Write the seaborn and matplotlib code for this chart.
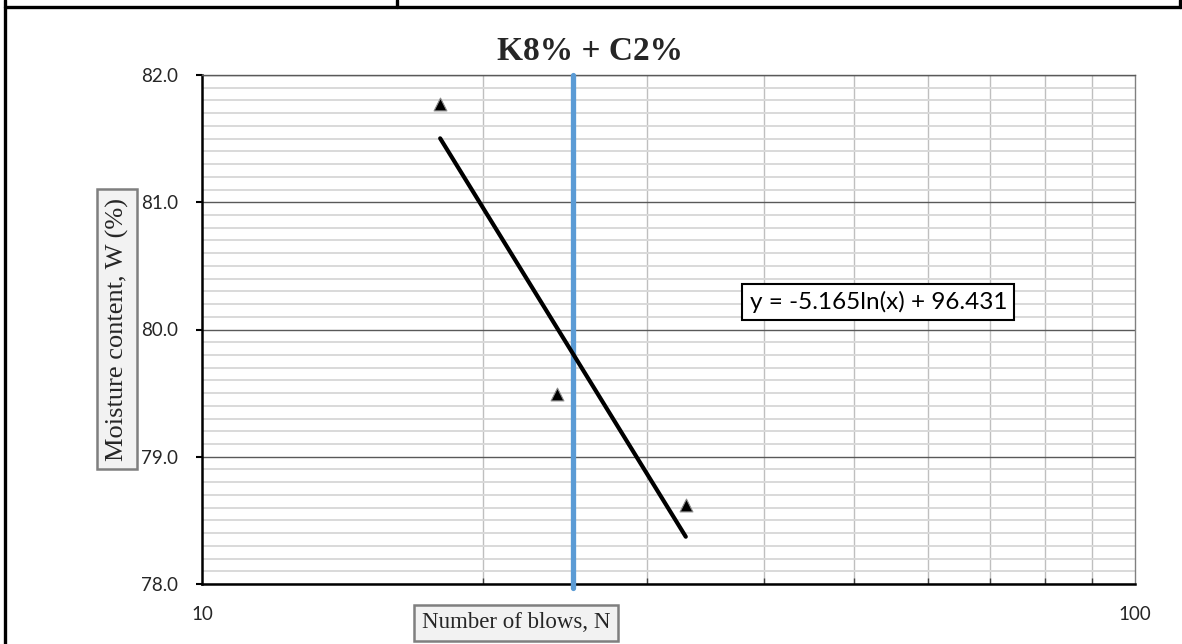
import numpy as np
import pandas as pd
import matplotlib
matplotlib.use("Agg")
import matplotlib.pyplot as plt
from matplotlib.lines import Line2D
from matplotlib.ticker import FixedLocator, NullFormatter
import seaborn as sns

# Liquid limit test data
blows = [18, 24, 33]
moisture = [81.77, 79.49, 78.62]

# Logarithmic trend line: W = a*ln(N) + b
trend_a = -5.165
trend_b = 96.431
trend_label = "y = -5.165ln(x) + 96.431"

title = "K8% + C2%"
x_label = "Number of blows, N"
y_label = "Moisture content, W (%)"
liquid_limit_blows = 25

x_ticks = [10, 100]
y_ticks = [78.0, 79.0, 80.0, 81.0, 82.0]

sns.set_theme(style="white")
plt.rcParams["font.family"] = ["Lato", "DejaVu Sans"]

fig = plt.figure(figsize=(11.82, 6.44), dpi=100)
ax = fig.add_axes([202 / 1182, 1 - 584 / 644, (1135 - 202) / 1182, (584 - 75) / 644])

ax.set_xscale("log")
ax.set_xlim(10, 100)
ax.set_ylim(78, 82)

# grid
ax.yaxis.set_minor_locator(FixedLocator(np.round(np.arange(78.1, 82.0, 0.1), 2)))
ax.xaxis.set_minor_locator(FixedLocator(range(20, 100, 10)))
ax.xaxis.set_minor_formatter(NullFormatter())
ax.grid(which="minor", axis="y", color="#d9d9d9", lw=1.4, zorder=0)
ax.grid(which="major", axis="y", color="#595959", lw=1.0, zorder=0)
ax.grid(which="minor", axis="x", color="#bfbfbf", lw=1.0, zorder=0)
ax.set_axisbelow(True)

ax.set_xticks(x_ticks)
ax.set_xticklabels([str(t) for t in x_ticks])
ax.set_yticks(y_ticks)
ax.set_yticklabels([f"{t:.1f}" for t in y_ticks])
ax.tick_params(axis="y", which="major", direction="out", length=4, width=1.5,
               color="black", labelsize=13.5, pad=13, left=True)
ax.tick_params(axis="y", which="minor", left=False)
ax.tick_params(axis="x", which="major", length=0, labelsize=13.5, pad=16)
ax.tick_params(axis="x", which="minor", direction="in", length=4, width=1,
               color="#404040", bottom=True)

for side in ["left", "bottom"]:
    ax.spines[side].set_color("black")
    ax.spines[side].set_linewidth(1.8)
ax.spines["top"].set_color("#595959")
ax.spines["top"].set_linewidth(1.0)
ax.spines["right"].set_color("#808080")
ax.spines["right"].set_linewidth(1.0)

# reference line at 25 blows
ax.axvline(liquid_limit_blows, ymin=-0.008, ymax=1, color="#5b9bd5", lw=3.8,
           zorder=3, clip_on=False)

# trend line over the data range
trend_x = np.linspace(min(blows), max(blows), 50)
trend_df = pd.DataFrame({"N": trend_x, "W": trend_a * np.log(trend_x) + trend_b})
sns.lineplot(data=trend_df, x="N", y="W", ax=ax, color="black", lw=3,
             zorder=4, solid_capstyle="round")

pts = pd.DataFrame({"N": blows, "W": moisture})
sns.scatterplot(data=pts, x="N", y="W", ax=ax, marker="^", s=85,
                color="black", edgecolor="#8c8c8c", linewidth=0.8, zorder=5)

ax.set_xlabel("")
ax.set_ylabel("")

box = dict(boxstyle="square,pad=0.33", facecolor="#f2f2f2", edgecolor="#7f7f7f", lw=1.8)
serif = ["Liberation Serif", "DejaVu Serif"]
fig.text(590 / 1182, 1 - 51 / 644, title, ha="center", va="center",
         fontsize=24, fontweight="bold", family=serif)
fig.text(117 / 1182, 1 - 329 / 644, y_label, ha="center", va="center",
         rotation=90, fontsize=19, family=serif, bbox=box)
fig.text(516 / 1182, 1 - 623 / 644, x_label, ha="center", va="center",
         fontsize=16.5, family=serif, bbox=box)

ax.text(0.587, 0.554, trend_label, transform=ax.transAxes, ha="left", va="center",
        fontsize=17.5, color="black", zorder=6,
        bbox=dict(boxstyle="square,pad=0.3", facecolor="white",
                  edgecolor="black", lw=1.5))

# surrounding table frame
def frame_line(x0, y0, x1, y1):
    fig.add_artist(Line2D([x0 / 1182, x1 / 1182], [1 - y0 / 644, 1 - y1 / 644],
                          color="black", lw=2.4, transform=fig.transFigure))

frame_line(5, 7, 1182, 7)
frame_line(5, 0, 5, 644)
frame_line(397, 0, 397, 7)
frame_line(1180, 0, 1180, 7)

fig.savefig("out.png", dpi=100, facecolor="white")
